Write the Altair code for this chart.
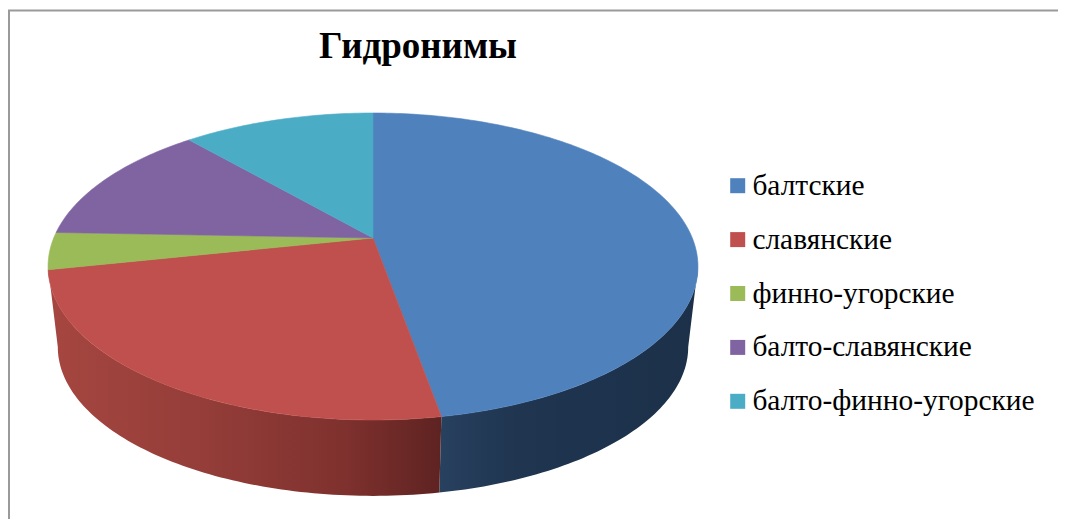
import math
import altair as alt

# --- chart values ---
categories = ["балтские", "славянские", "финно-угорские", "балто-славянские", "балто-финно-угорские"]
values = [47.2, 24.5, 3.9, 13.0, 11.4]
colors = ["#4f81bd", "#c0504d", "#9bbb59", "#8064a2", "#4bacc6"]
title_text = "Гидронимы"

# --- drawing set-up of the tilted disc (pixels inside the plot area) ---
OX, OY = 8, 8
APEX_X, APEX_Y = 373 - OX, 238 - OY
A, B, K = 319.3, 148.2, 0.1857
SHRINK, DROP_CY, TOP_CY = 0.97, 346.5 - OY, 266 - OY


def rim(deg):
    p = math.radians(deg)
    u, v = math.sin(p), -math.cos(p)
    w = 1 - K * v
    return APEX_X + A * u / w, APEX_Y + B * v / w


def low(deg):
    x, y = rim(deg)
    return APEX_X + (x - APEX_X) * SHRINK, DROP_CY + (y - TOP_CY) * SHRINK


def steps(a, b, step=1.0):
    n = max(2, int(abs(b - a) / step))
    return [a + (b - a) * i / n for i in range(n + 1)]


def feature(ring, **props):
    ring = [list(pt) for pt in ring]
    ring.append(ring[0])
    return {"type": "Feature", "properties": props,
            "geometry": {"type": "Polygon", "coordinates": [ring]}}


total = sum(values)
edges = [0.0]
for val in values:
    edges.append(edges[-1] + 360.0 * val / total)

top_features = []
for i, cat in enumerate(categories):
    ring = [(APEX_X, APEX_Y)] + [rim(d) for d in steps(edges[i], edges[i + 1])]
    top_features.append(feature(ring, category=cat))

silhouette_right = 100.7
silhouette_left = 259.3


def wall(a, b):
    pts = [rim(d) for d in steps(a, b)] + [low(d) for d in steps(b, a)]
    return feature(pts, category="wall")


def geo(features):
    return alt.InlineData(values={"type": "FeatureCollection", "features": features},
                          format=alt.DataFormat(property="features", type="json"))


projection = dict(type="identity", scale=1, translate=[0, 0])


def wall_layer(feat, stops):
    grad = alt.Gradient(gradient="linear", x1=0, x2=1, y1=0, y2=0,
                        stops=[alt.GradientStop(color=c, offset=o) for o, c in stops])
    return alt.Chart(geo([feat])).mark_geoshape(fill=grad, strokeOpacity=0).encode().project(**projection)


blue_wall = wall_layer(wall(silhouette_right, edges[1]),
                       [(0, "#28415f"), (0.3, "#1f3550"), (1, "#1c3049")])
red_wall = wall_layer(wall(edges[1], silhouette_left),
                      [(0, "#a64640"), (0.4, "#943d39"), (0.75, "#7f312e"), (1, "#5e2321")])

scale = alt.Scale(domain=categories, range=colors)
disc = alt.Chart(geo(top_features)).mark_geoshape(strokeWidth=0.6).encode(
    color=alt.Color(
        "properties.category:N",
        scale=scale,
        legend=alt.Legend(
            title=None, orient="none", legendX=715, legendY=163,
            symbolType="square", symbolSize=225, symbolStrokeWidth=0,
            labelFont="Liberation Serif", labelFontSize=29.4, labelColor="#000000",
            labelLimit=400, rowPadding=22.9, labelOffset=0, symbolOpacity=1,
        ),
    ),
    stroke=alt.Stroke("properties.category:N", scale=scale, legend=None),
).project(**projection)

frame_color = "#9a9a9a"
frame_left = alt.Chart().mark_rule(color=frame_color, strokeWidth=2).encode(
    x=alt.value(1), y=alt.value(2), y2=alt.value(511))
frame_top = alt.Chart().mark_rule(color=frame_color, strokeWidth=2).encode(
    x=alt.value(0), x2=alt.value(1050), y=alt.value(2.5))

chart = alt.layer(frame_left, frame_top, blue_wall, red_wall, disc).properties(
    width=1050, height=511,
    background="#ffffff",
    title=alt.TitleParams(
        title_text, font="Liberation Serif", fontSize=37, fontWeight="bold", color="#000000",
        anchor="start", frame="group", dx=311, dy=58, offset=0,
    ),
    autosize=alt.AutoSizeParams(type="none"),
    padding=0,
).configure_view(stroke=None)

chart.save("out.html", embed_options={"renderer": "svg", "actions": False})
